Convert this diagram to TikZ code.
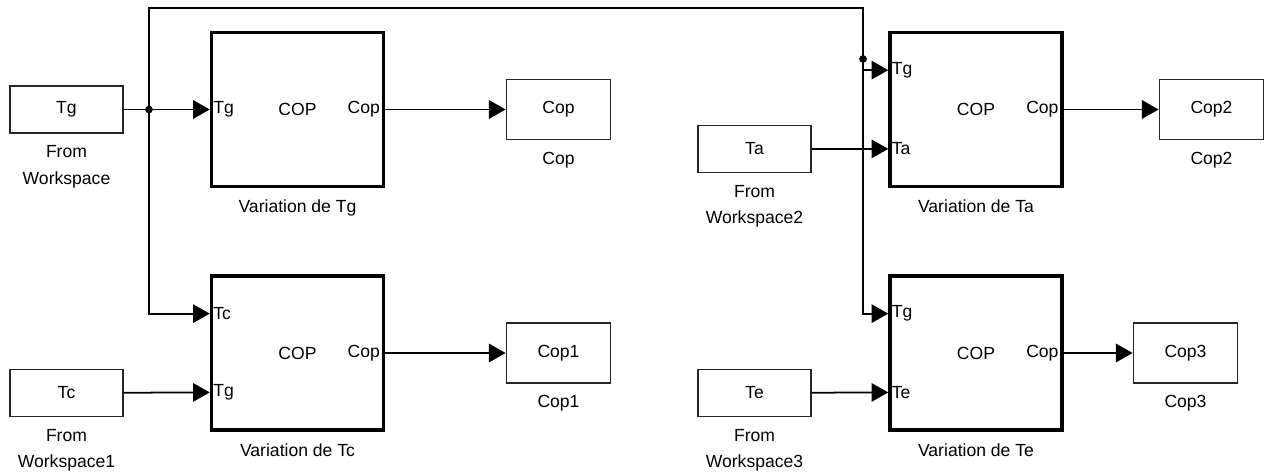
\documentclass[tikz,border=0pt]{standalone}
\usepackage{fontspec}
\setmainfont{Liberation Sans}
\usetikzlibrary{arrows.meta,positioning,calc}

\begin{document}
\begin{tikzpicture}[
  x=0.02cm,
  y=-0.02cm,
  font=\fontsize{10}{15}\selectfont,
  subsys/.style={
    draw=black,
    line width=2pt,
    minimum width=3.44cm,
    minimum height=3.08cm,
    inner sep=0pt
  },
  source/.style={draw=black!85, line width=1pt, minimum width=2.26cm, minimum height=0.94cm, inner sep=0pt},
  sink/.style={draw=black!85, line width=1pt, minimum width=2.08cm, minimum height=1.2cm, inner sep=0pt},
  inport/.style={anchor=west, inner sep=2pt, outer sep=0pt},
  outport/.style={anchor=east, inner sep=3pt, outer sep=0pt},
  caption/.style={align=center, inner sep=0pt},
  wire/.style={draw=black, line width=1pt},
  signal/.style={wire, -{Triangle[length=9.5pt,width=10.5pt]}}
]

\useasboundingbox (0,0) rectangle (1274,472);

% Subsystems computing the COP.
\node[subsys] (tgblk) at (297.5,109.5) {COP};
\node[subsys] (tcblk) at (297.5,353) {COP};
\node[subsys] (tablk) at (976,109.5) {COP};
\node[subsys] (teblk) at (976,353) {COP};

\node[caption, below=6.5pt of tgblk] (tgcap) {Variation de Tg};
\node[caption, below=6.5pt of tcblk] (tccap) {Variation de Tc};
\node[caption, below=6.5pt of tablk] (tacap) {Variation de Ta};
\node[caption, below=6.5pt of teblk] (tecap) {Variation de Te};

% Port labels.
\node[inport] (tg-in) at (tgblk.west) {Tg};
\node[outport] (tg-out) at (tgblk.east) {Cop};
\node[inport] (tc-in1) at ($(tcblk.north west)!0.25!(tcblk.south west)$) {Tc};
\node[inport] (tc-in2) at ($(tcblk.north west)!0.75!(tcblk.south west)$) {Tg};
\node[outport] (tc-out) at (tcblk.east) {Cop};
\node[inport] (ta-in1) at ($(tablk.north west)!0.25!(tablk.south west)$) {Tg};
\node[inport] (ta-in2) at ($(tablk.north west)!0.75!(tablk.south west)$) {Ta};
\node[outport] (ta-out) at (tablk.east) {Cop};
\node[inport] (te-in1) at ($(teblk.north west)!0.25!(teblk.south west)$) {Tg};
\node[inport] (te-in2) at ($(teblk.north west)!0.75!(teblk.south west)$) {Te};
\node[outport] (te-out) at (teblk.east) {Cop};

% From Workspace sources.
\node[source] (tgsrc) at (66.5,109.5) {Tg};
\node[source] (tcsrc) at (66.5,393) {Tc};
\node[source] (tasrc) at (754.5,149) {Ta};
\node[source] (tesrc) at (754.5,393) {Te};

\node[caption, below=6.5pt of tgsrc] (tgsrccap) {From\\Workspace};
\node[caption, below=6.5pt of tcsrc] (tcsrccap) {From\\Workspace1};
\node[caption, below=6.5pt of tasrc] (tasrccap) {From\\Workspace2};
\node[caption, below=6.5pt of tesrc] (tesrccap) {From\\Workspace3};

% Sinks.
\node[sink] (cop0) at (558.5,109.5) {Cop};
\node[sink] (cop1) at (558.5,353) {Cop1};
\node[sink] (cop2) at (1211.5,109.5) {Cop2};
\node[sink] (cop3) at (1185.5,353) {Cop3};

\node[caption, below=6.5pt of cop0] (cop0cap) {Cop};
\node[caption, below=6.5pt of cop1] (cop1cap) {Cop1};
\node[caption, below=6.5pt of cop2] (cop2cap) {Cop2};
\node[caption, below=6.5pt of cop3] (cop3cap) {Cop3};

% Tg is shared by all four subsystems.
\coordinate (jl) at (149,109.5);
\coordinate (topr) at (863,8);
\coordinate (jr) at (863,59);

\draw[signal] (tgsrc) -- (tg-in.west);
\draw[signal] (jl) |- (tc-in1.west);
\draw[signal] (jl) |- (topr) |- (te-in1.west);
\draw[signal] (jr |- ta-in1.west) -- (ta-in1.west);
\fill (jl) circle (2.2pt);
\fill (jr) circle (2.2pt);

\draw[signal] (tcsrc) -- (tc-in2.west);
\draw[signal] (tasrc) -- (ta-in2.west);
\draw[signal] (tesrc) -- (te-in2.west);

\draw[signal] (tgblk) -- (cop0);
\draw[signal] (tcblk) -- (cop1);
\draw[signal] (tablk) -- (cop2);
\draw[signal] (teblk) -- (cop3);

\end{tikzpicture}
\end{document}
